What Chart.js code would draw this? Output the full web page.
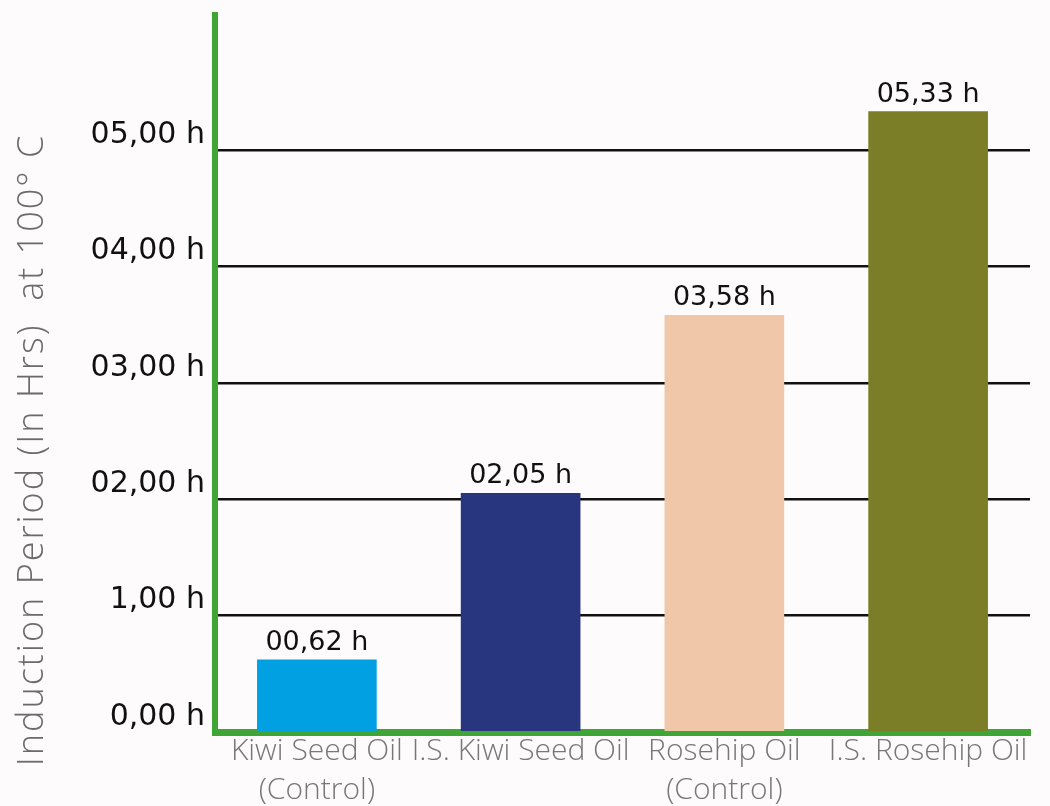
<!DOCTYPE html>
<html>
<head>
<meta charset="utf-8">
<script src="https://cdn.jsdelivr.net/npm/chart.js@4/dist/chart.umd.min.js"></script>
<style>
  html, body { margin: 0; padding: 0; background: #fdfbfb; }
  #wrap { width: 1050px; height: 806px; position: relative; }
</style>
</head>
<body>
<div id="wrap"><canvas id="chart"></canvas></div>
<script>
// ── data ────────────────────────────────────────────────
var categories = [
  ['Kiwi Seed Oil', '(Control)'],
  'I.S. Kiwi Seed Oil',
  ['Rosehip Oil', '(Control)'],
  'I.S. Rosehip Oil'
];
var hours = [0.62, 2.05, 3.58, 5.33];
var valueLabels = ['00,62 h', '02,05 h', '03,58 h', '05,33 h'];
var barColors = ['#00a0e3', '#28367f', '#f0c8a9', '#7b7e27'];
var yTickValues = [0, 1, 2, 3, 4, 5];
var yTickLabels = ['0,00 h', '1,00 h', '02,00 h', '03,00 h', '04,00 h', '05,00 h'];
var yTitle = 'Induction Period (In Hrs)  at 100\u00b0 C';

var axisGreen = '#3fa535';

// value labels above each bar, placed from the bar elements
var valueLabelPlugin = {
  id: 'valueLabels',
  afterDatasetsDraw: function(chart) {
    var ctx = chart.ctx;
    var meta = chart.getDatasetMeta(0);
    ctx.save();
    ctx.font = '27px "DejaVu Sans", sans-serif';
    ctx.fillStyle = '#111';
    ctx.textAlign = 'center';
    ctx.textBaseline = 'alphabetic';
    meta.data.forEach(function(bar, i) {
      ctx.fillText(valueLabels[i], bar.x, bar.y - 10);
    });
    ctx.restore();
  }
};

// rotated y title, sitting lower than the chart-area centre like the source
var yTitlePlugin = {
  id: 'yTitle',
  afterDraw: function(chart) {
    var ctx = chart.ctx;
    ctx.save();
    ctx.translate(33, 450);
    ctx.rotate(-Math.PI / 2);
    ctx.font = '300 36px "Open Sans", sans-serif';
    ctx.letterSpacing = '2px';
    ctx.fillStyle = '#6b6b6b';
    ctx.textAlign = 'center';
    ctx.textBaseline = 'middle';
    ctx.fillText(yTitle, 0, 0);
    ctx.restore();
  }
};

new Chart(document.getElementById('chart').getContext('2d'), {
  type: 'bar',
  data: {
    labels: categories,
    datasets: [{
      data: hours,
      backgroundColor: barColors,
      borderWidth: 0,
      barThickness: 119
    }]
  },
  options: {
    responsive: true,
    maintainAspectRatio: false,
    animation: false,
    layout: { padding: { top: 15, right: 20, bottom: 0, left: 0 } },
    plugins: {
      legend: { display: false },
      tooltip: { enabled: false }
    },
    scales: {
      x: {
        grid: { display: false, drawTicks: false },
        border: { display: true, color: axisGreen, width: 7 },
        ticks: {
          color: '#777',
          font: { size: 30, family: '"Open Sans", sans-serif', weight: '300', lineHeight: 1.3 },
          padding: 0,
          maxRotation: 0,
          autoSkip: false
        },
        afterFit: function(scale) {
          scale.height = 806 - 732;
          scale.paddingLeft = 0;
          scale.paddingRight = 0;
        }
      },
      y: {
        min: 0,
        max: 6.16,
        afterBuildTicks: function(scale) {
          scale.ticks = yTickValues.map(function(v) { return { value: v }; });
        },
        grid: {
          drawTicks: false,
          lineWidth: 2.5,
          color: function(c) { return c.tick && c.tick.value === 0 ? 'rgba(0,0,0,0)' : '#111'; }
        },
        border: { display: true, color: axisGreen, width: 6 },
        ticks: {
          color: '#111',
          align: 'end',
          padding: 10,
          font: { size: 30, family: '"DejaVu Sans", sans-serif' },
          callback: function(v) {
            var i = yTickValues.indexOf(v);
            return i === -1 ? '' : yTickLabels[i];
          }
        },
        afterFit: function(scale) {
          scale.width = 215;
          scale.paddingTop = 0;
          scale.paddingBottom = 0;
        }
      }
    }
  },
  plugins: [valueLabelPlugin, yTitlePlugin]
});
</script>
</body>
</html>
